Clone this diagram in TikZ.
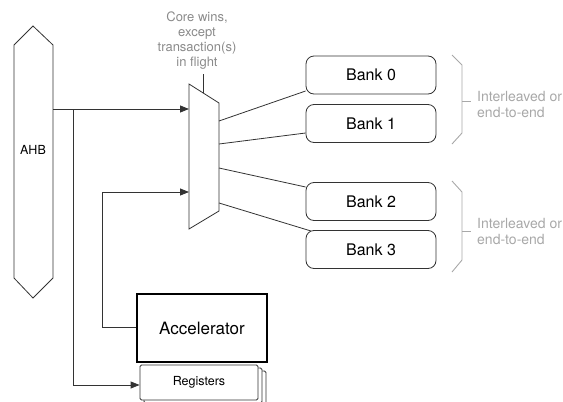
\documentclass[tikz,border=0pt]{standalone}
\usepackage{fontspec}
\setmainfont{TeX Gyre Heros}
\usetikzlibrary{arrows.meta}
\definecolor{linegray}{HTML}{333333}
\definecolor{notegray}{HTML}{8A8A8A}
\definecolor{bracegray}{HTML}{A8A8A8}
\tikzset{
  wire/.style={draw=linegray, line width=0.8pt},
  arrowwire/.style={wire, -{Triangle[length=9pt,width=7pt]}},
  bankbox/.style={draw=linegray, line width=0.8pt, rounded corners=8pt,
    minimum width=130pt, minimum height=38pt, inner sep=0pt,
    font=\fontsize{16}{18}\selectfont},
  bracket/.style={draw=bracegray, line width=0.9pt},
  note/.style={align=left, text=bracegray, font=\fontsize{14}{16}\selectfont, inner sep=0pt, anchor=west},
}
\begin{document}
\begin{tikzpicture}[x=1pt,y=-1pt]
\useasboundingbox (0,0) rectangle (563,402);

% bus
\draw[wire] (14,45) -- (33,26) -- (53,45) -- (53,278) -- (33,298) -- (14,278) -- cycle;
\node[font=\fontsize{12.5}{15}\selectfont] (ahb) at (33,150) {AHB};
\coordinate (ahbout) at (53,109);
\coordinate (tap) at (73,109);

% multiplexer
\coordinate (mtl) at (189,84);
\coordinate (mtr) at (219,103);
\coordinate (mbr) at (219,211);
\coordinate (mbl) at (189,229);
\draw[wire] (mtl) -- (mtr) -- (mbr) -- (mbl) -- cycle;
\coordinate (min1) at (189,109);
\coordinate (min2) at (189,192);
\coordinate (mo0) at (219,121);
\coordinate (mo1) at (219,144);
\coordinate (mo2) at (219,168);
\coordinate (mo3) at (219,203);
\coordinate (sel) at (203,93);
\coordinate (seltop) at (203,74);
\draw[wire] (seltop) -- (sel);

\node[align=center, text=notegray, font=\fontsize{13}{15}\selectfont, inner sep=0pt] (note) at (197,41)
  {Core wins,\\except\\transaction(s)\\in flight};

% memory banks
\node[bankbox] (b0) at (371,75) {Bank 0};
\node[bankbox] (b1) at (371,123.5) {Bank 1};
\node[bankbox] (b2) at (371,201.5) {Bank 2};
\node[bankbox] (b3) at (371,249.5) {Bank 3};

\draw[wire] (mo0) -- (b0.south west |- 0,91);
\draw[wire] (mo1) -- (b1.west |- 0,133);
\draw[wire] (mo2) -- (b2.west |- 0,187);
\draw[wire] (mo3) -- (311,231);

% grouping brackets
\draw[bracket] (452,55) -- (462,65) -- (462,133) -- (452,144);
\draw[bracket] (462,101) -- (471,101);
\node[note] (il1) at (477,104) {Interleaved or\\end-to-end};
\draw[bracket] (452,181) -- (462,192) -- (462,260) -- (452,272);
\draw[bracket] (462,231) -- (471,231);
\node[note] (il2) at (477,231) {Interleaved or\\end-to-end};

% accelerator and its register file
\node[draw=black, line width=1.1pt, minimum width=130pt, minimum height=68pt, inner sep=0pt,
  font=\fontsize{17}{20}\selectfont] (acc) at (202,328) {Accelerator};
\draw[wire, rounded corners=1.5pt, fill=white] (148,371) rectangle (266,406);
\draw[wire, rounded corners=1.5pt, fill=white] (144,368) rectangle (262,403);
\node[draw=linegray, line width=0.8pt, rounded corners=1.5pt, fill=white,
  minimum width=118pt, minimum height=35pt, inner sep=0pt,
  font=\fontsize{12.5}{15}\selectfont] (regs) at (199,382.5) {Registers};

% connections
\draw[arrowwire] (ahbout) -- (min1);
\draw[arrowwire] (acc.west |- 0,327) -- (102,327) -- (102,192) -- (min2);
\draw[arrowwire] (tap) -- (73,385) -- (regs.west |- 0,385);
\end{tikzpicture}
\end{document}
